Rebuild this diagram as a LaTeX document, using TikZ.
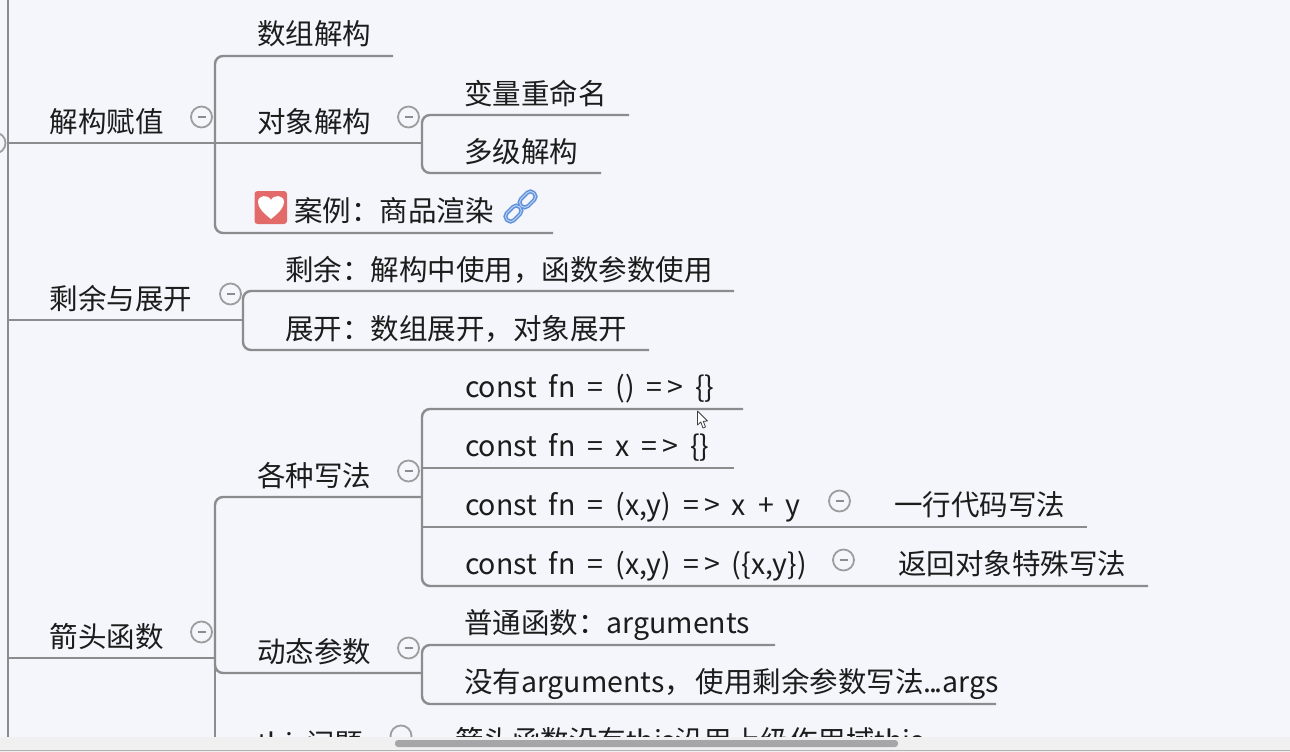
\documentclass[tikz,border=0pt]{standalone}
\usepackage{fontspec}
\setmainfont{Noto Sans CJK SC}
\usetikzlibrary{shapes.geometric}
\definecolor{bgc}{HTML}{F5F6FB}
\definecolor{linec}{HTML}{8C8C8E}
\definecolor{txtc}{HTML}{1C1C1C}
\definecolor{barc}{HTML}{F0F0F0}
\definecolor{thumbc}{HTML}{A6A6A8}
\definecolor{heartc}{HTML}{E26A68}
\definecolor{linkc}{HTML}{5F92DC}
\tikzset{
  lbl/.style={anchor=base west,inner sep=0pt,outer sep=0pt,text=txtc,font=\fontsize{28.5}{32}\selectfont},
  code/.style={lbl,execute at begin node={\spaceskip=12pt\relax}},
  wire/.style={draw=linec,line width=2.4pt,rounded corners=8pt},
  toggle/.style={circle,draw=linec!85,line width=1.8pt,fill=bgc,minimum size=21pt,inner sep=0pt,outer sep=0pt},
  dash bar/.style={draw=linec,line width=1.8pt},
}
\newcommand{\togglemark}[1]{\draw[dash bar] ([xshift=-4pt]#1.center) -- ([xshift=4pt]#1.center);}
\newcommand{\arrowsign}{=\kern5pt>}
\begin{document}
\begin{tikzpicture}[x=1pt,y=-1pt]
\useasboundingbox (0,0) rectangle (1290,752);
\fill[bgc] (0,0) rectangle (1290,752);

% junctions and line ends
\coordinate (rootTop) at (8,0);
\coordinate (rootBot) at (8,737);
\coordinate (aS) at (8,143);
\coordinate (aJ) at (215,143);
\coordinate (a1E) at (393,56);
\coordinate (a2J) at (422,143);
\coordinate (a21E) at (629,115);
\coordinate (a22E) at (601,173);
\coordinate (a3E) at (553,233);
\coordinate (bS) at (8,320);
\coordinate (bJ) at (243,320);
\coordinate (b1E) at (734,291);
\coordinate (b2E) at (649,350);
\coordinate (cS) at (8,658);
\coordinate (cJ) at (215,658);
\coordinate (cBot) at (215,737);
\coordinate (c1J) at (422,497);
\coordinate (c11E) at (743,409);
\coordinate (c12E) at (734,468);
\coordinate (c13E) at (1087,527);
\coordinate (c14E) at (1148,586);
\coordinate (c2J) at (422,673);
\coordinate (c21E) at (775,645);
\coordinate (c22E) at (996,704);

% connectors
\draw[wire] (rootTop) -- (rootBot);
\draw[wire] (aS) -- (a2J);
\draw[wire] (a1E) -| (aJ);
\draw[wire] (aJ) |- (a3E);
\draw[wire] (a21E) -| (a2J);
\draw[wire] (a2J) |- (a22E);
\draw[wire] (bS) -- (bJ);
\draw[wire] (b1E) -| (bJ);
\draw[wire] (bJ) |- (b2E);
\draw[wire] (cS) -- (cJ);
\draw[wire] (c1J) -| (cJ);
\draw[wire] (cJ) -- (cBot);
\draw[wire] (cJ) |- (c2J);
\draw[wire] (c11E) -| (c1J);
\draw[wire] (c1J) |- (c14E);
\draw[wire] (c1J |- c12E) -- (c12E);
\draw[wire] (c1J |- c13E) -- (c13E);
\draw[wire] (c21E) -| (c2J);
\draw[wire] (c2J) |- (c22E);

% labels
\node[lbl] (a) at (49.5,132) {解构赋值};
\node[lbl] (a1) at (257,45) {数组解构};
\node[lbl] (a2) at (257,132) {对象解构};
\node[lbl] (a21) at (464,104) {变量重命名};
\node[lbl] (a22) at (464,162.5) {多级解构};
\node[lbl] (a3) at (294,221.5) {案例：商品渲染};
\node[lbl] (b) at (49.5,309) {剩余与展开};
\node[lbl] (b1) at (285,280.5) {剩余：解构中使用，函数参数使用};
\node[lbl] (b2) at (285,339.5) {展开：数组展开，对象展开};
\node[lbl] (c) at (49.5,647) {箭头函数};
\node[lbl] (c1) at (257,486) {各种写法};
\node[code] (c11) at (465,397) {const fn = () \arrowsign{} \{\}};
\node[code] (c12) at (465,456) {const fn = x \arrowsign{} \{\}};
\node[code] (c13) at (465,515) {const fn = (x,y) \arrowsign{} x + y};
\node[lbl] (c131) at (894,515.5) {一行代码写法};
\node[code] (c14) at (465,574) {const fn = (x,y) \arrowsign{} (\{x,y\})};
\node[lbl] (c141) at (898,574.5) {返回对象特殊写法};
\node[lbl] (c2) at (257,662.5) {动态参数};
\node[lbl] (c21) at (464,633.5) {普通函数：arguments};
\node[lbl] (c22) at (464,692.5) {没有arguments，\kern3pt 使用剩余参数写法.\kern-2.5pt.\kern-2.5pt.args};
\node[lbl] (c3) at (257,754) {this问题};
\node[lbl] (c31) at (455,751) {箭头函数没有this沿用上级作用域this};

% collapse toggles
\node[toggle] (ta) at (201.5,117) {}; \togglemark{ta}
\node[toggle] (ta2) at (408.5,117) {}; \togglemark{ta2}
\node[toggle] (tb) at (230.5,294) {}; \togglemark{tb}
\node[toggle] (tc) at (201.5,632) {}; \togglemark{tc}
\node[toggle] (tc1) at (408.5,471) {}; \togglemark{tc1}
\node[toggle] (tc13) at (839.5,501) {}; \togglemark{tc13}
\node[toggle] (tc14) at (843.5,560) {}; \togglemark{tc14}
\node[toggle] (tc2) at (408.5,648) {}; \togglemark{tc2}
\node[toggle] (tc3) at (401,736) {};
\node[toggle] (troot) at (-5,143) {};

% heart icon
\fill[heartc,rounded corners=3pt] (254.5,191) rectangle (287,224);
\fill[white] (271,219) .. controls (262,212) and (258,207) .. (258,202)
  .. controls (258,195) and (268,194) .. (271,200)
  .. controls (274,194) and (284,195) .. (284,202)
  .. controls (284,207) and (280,212) .. (271,219) -- cycle;

% link icon
\begin{scope}[shift={(520.5,206.5)},rotate=45]
  \draw[linkc,line width=4pt,rounded corners=4.5pt] (-19,-5) rectangle (-1,5);
  \draw[linkc,line width=4pt,rounded corners=4.5pt] (1,-5) rectangle (19,5);
  \draw[linkc!45,line width=1pt,rounded corners=4.5pt] (-19,-5) rectangle (-1,5);
  \draw[linkc!45,line width=1pt,rounded corners=4.5pt] (1,-5) rectangle (19,5);
\end{scope}

% mouse pointer
\draw[fill=white,draw=black!75,line width=0.8pt,line join=round]
  (697.5,411) -- (697.5,425) -- (700.8,422) -- (703,428) -- (705.5,427) -- (703.3,421.3) -- (707.5,421) -- cycle;

% bottom scroll bar
\fill[barc] (0,737) rectangle (1290,752);
\draw[draw=black!30,line width=1pt] (0,750.5) -- (1290,750.5);
\fill[thumbc,rounded corners=3pt] (395,740) rectangle (898,747);
\end{tikzpicture}
\end{document}
